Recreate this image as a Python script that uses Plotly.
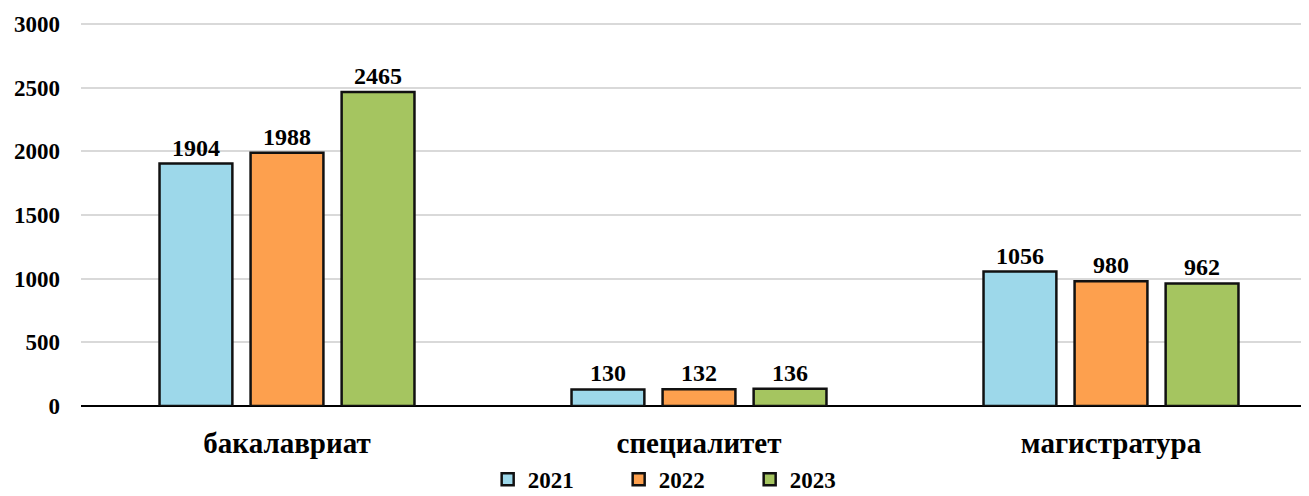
import plotly.graph_objects as go

categories = ["бакалавриат", "специалитет", "магистратура"]
years = ["2021", "2022", "2023"]
values_2021 = [1904, 130, 1056]
values_2022 = [1988, 132, 980]
values_2023 = [2465, 136, 962]
colors = ["#9DD8EA", "#FDA04E", "#A5C560"]
yticks = [0, 500, 1000, 1500, 2000, 2500, 3000]

series = [values_2021, values_2022, values_2023]
FONT = "Liberation Serif, Times New Roman, serif"

fig = go.Figure()
for name, vals, col in zip(years, series, colors):
    fig.add_trace(go.Bar(
        x=categories, y=vals, name="<b>" + name + "</b>",
        marker=dict(color=col, line=dict(color="#111111", width=2.5)),
        text=[str(v) for v in vals], texttemplate="<b>%{text}</b>",
        textposition="outside",
        textfont=dict(family=FONT, size=24, color="black"),
        cliponaxis=False,
    ))

fig.update_layout(
    width=1309, height=496,
    margin=dict(l=73, r=0, t=14, b=98, autoexpand=False),
    paper_bgcolor="white", plot_bgcolor="white",
    barmode="group", bargap=0.337, bargroupgap=0.2,
    font=dict(family=FONT, color="black"),
    showlegend=True,
    legend=dict(orientation="h", x=0.488, xanchor="center", yref="container",
                y=0.05, yanchor="middle",
                font=dict(family=FONT, size=23, color="black"),
                entrywidth=86, itemwidth=30, traceorder="normal"),
    xaxis=dict(tickfont=dict(family=FONT, size=29, color="black"),
               tickvals=categories, ticktext=["<b>" + c + "</b>" for c in categories],
               showline=False, ticks="", showgrid=False, ticklabelstandoff=17),
    yaxis=dict(range=[0, 3015], showgrid=True, gridcolor="#D9D9D9", gridwidth=1.5,
               zeroline=True, zerolinecolor="black", zerolinewidth=1.5,
               tickvals=yticks, ticktext=["<b>%d</b>" % v for v in yticks],
               tickfont=dict(family=FONT, size=23, color="black"),
               ticks="", ticklabelstandoff=20),
)

fig.write_html("out.html")
